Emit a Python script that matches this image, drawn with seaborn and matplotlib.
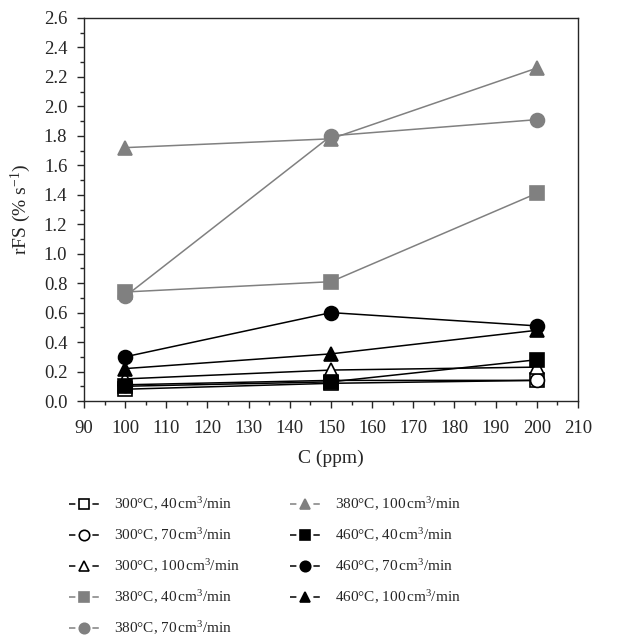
import numpy as np
import pandas as pd
import matplotlib
matplotlib.use("Agg")
import matplotlib.pyplot as plt
import seaborn as sns
from matplotlib.ticker import MultipleLocator
from matplotlib.lines import Line2D

conc = [100, 150, 200]
labels = [
    "300°C, 40$\\,$cm$^3$/min",
    "300°C, 70$\\,$cm$^3$/min",
    "300°C, 100$\\,$cm$^3$/min",
    "380°C, 40$\\,$cm$^3$/min",
    "380°C, 70$\\,$cm$^3$/min",
    "380°C, 100$\\,$cm$^3$/min",
    "460°C, 40$\\,$cm$^3$/min",
    "460°C, 70$\\,$cm$^3$/min",
    "460°C, 100$\\,$cm$^3$/min",
]
s300_40 = [0.08, 0.12, 0.14]
s300_70 = [0.11, 0.14, 0.14]
s300_100 = [0.15, 0.21, 0.23]
s380_40 = [0.74, 0.81, 1.41]
s380_70 = [0.71, 1.80, 1.91]
s380_100 = [1.72, 1.78, 2.26]
s460_40 = [0.10, 0.13, 0.28]
s460_70 = [0.30, 0.60, 0.51]
s460_100 = [0.22, 0.32, 0.48]
series = [s300_40, s300_70, s300_100, s380_40, s380_70, s380_100, s460_40, s460_70, s460_100]

sns.set_theme(style="ticks")
plt.rcParams['font.family'] = ['Liberation Serif', 'DejaVu Serif']
plt.rcParams['mathtext.fontset'] = 'custom'
plt.rcParams['mathtext.rm'] = 'Liberation Serif'
plt.rcParams['mathtext.it'] = 'Liberation Serif:italic'

fig = plt.figure(figsize=(6.24, 6.38), dpi=100)
ax = fig.add_axes([84/624, 1 - 401/638, (578-84)/624, (401-18)/638])

gray = "#808080"
styles = [
    ("s", "black", "white"),
    ("o", "black", "white"),
    ("^", "black", "white"),
    ("s", gray, gray),
    ("o", gray, gray),
    ("^", gray, gray),
    ("s", "black", "black"),
    ("o", "black", "black"),
    ("^", "black", "black"),
]

for vals, lab, (mk, col, fc) in zip(series, labels, styles):
    df = pd.DataFrame({"C": conc, "rFS": vals})
    sns.lineplot(data=df, x="C", y="rFS", ax=ax, color=col, marker=mk,
                 markersize=10, markerfacecolor=fc, markeredgecolor=col,
                 markeredgewidth=1.2, linewidth=1.1, legend=False)

ax.set_xlim(90, 210)
ax.set_ylim(0, 2.6)
ax.xaxis.set_major_locator(MultipleLocator(10))
ax.xaxis.set_minor_locator(MultipleLocator(5))
ax.yaxis.set_major_locator(MultipleLocator(0.2))
ax.yaxis.set_minor_locator(MultipleLocator(0.1))
ax.yaxis.set_major_formatter(matplotlib.ticker.FormatStrFormatter('%.1f'))
ax.tick_params(which='major', length=5, width=1, labelsize=13.5, direction='out')
ax.tick_params(axis='x', which='major', pad=9)
ax.tick_params(axis='y', which='major', pad=7)
ax.tick_params(which='minor', length=3, width=1, direction='out')
for sp in ax.spines.values():
    sp.set_linewidth(1)
ax.set_xlabel("C (ppm)", fontsize=14, labelpad=9)
ax.set_ylabel("rFS (% s$^{-1}$)", fontsize=14, labelpad=8)

# legend handles: "-marker-" style
fs = 11
hl = 1.95  # handlelength in font units
L = hl * fs  # points
lw = 1.1
dash = 4.6
handles = []
for (mk, col, fc) in styles:
    handles.append(Line2D([], [], color=col, marker=mk, markersize=7.5,
                          markerfacecolor=fc, markeredgecolor=col, markeredgewidth=1.2,
                          linewidth=lw,
                          linestyle=(0, (dash / lw, (L - 2 * dash) / lw))))
fig.legend(handles, labels, loc="upper left", bbox_to_anchor=(55/624, 1 - 482/638),
           ncol=2, frameon=False, fontsize=fs, handlelength=hl,
           columnspacing=3.3, labelspacing=0.88, handletextpad=1.0)

fig.savefig("out.png", dpi=100)
